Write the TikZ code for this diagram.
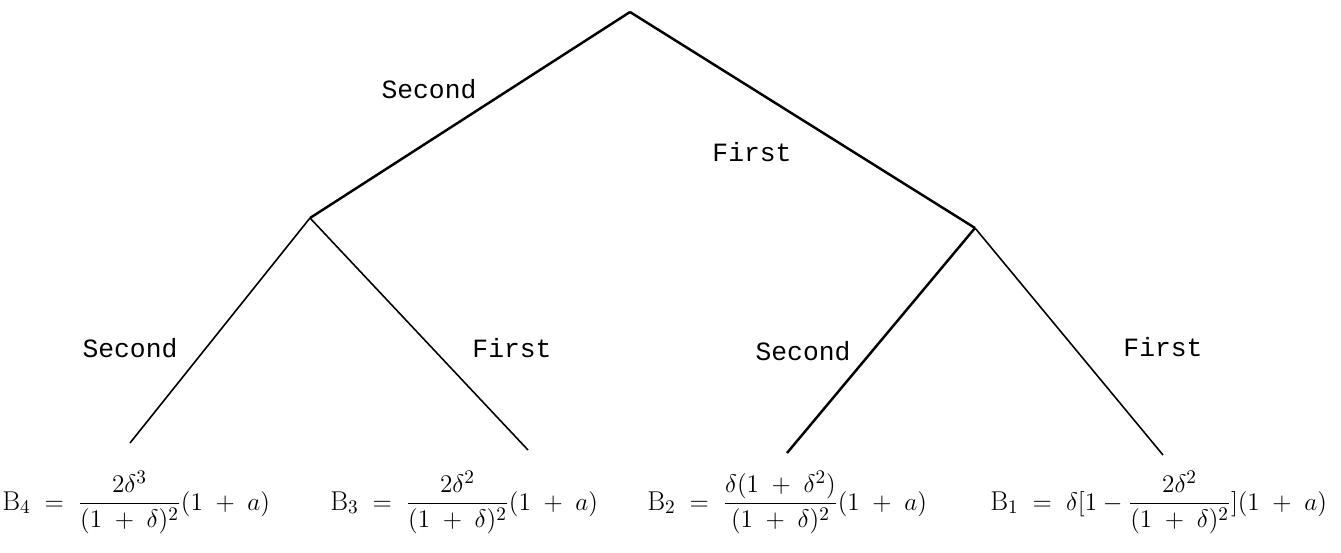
\documentclass[tikz,border=0pt]{standalone}
\usepackage{amsmath}
\usepackage{fontspec}
\newfontfamily\typefont{Liberation Mono}
\usetikzlibrary{positioning}
\newcommand{\pl}{\;+\;}
\newcommand{\eqs}{\;=\;}
\tikzset{
  branch/.style={draw=black,line width=1.4pt},
  twig/.style={draw=black,line width=0.9pt},
  choice/.style={font=\fontsize{15}{18}\typefont,inner sep=1pt},
  payoff/.style={font=\fontsize{15.5}{18}\selectfont,anchor=base west,inner sep=0pt},
}

\begin{document}
\begin{tikzpicture}[x=0.02cm,y=-0.02cm]
  \useasboundingbox (0,0) rectangle (1341,552);
  % tree points
  \coordinate (root) at (630,12);
  \coordinate (n2) at (310,218);
  \coordinate (n1) at (975,228);
  \coordinate (e4) at (130,443);
  \coordinate (e3) at (528,450);
  \coordinate (e2) at (787,453);
  \coordinate (e1) at (1163,455);
  \draw[branch] (root) -- (n2);
  \draw[branch] (root) -- (n1);
  \draw[twig] (n2) -- (e4);
  \draw[twig] (n2) -- (e3);
  \draw[branch] (n1) -- (e2);
  \draw[twig] (n1) -- (e1);
  % move labels
  \node[choice] (s0) at (429,89) {Second};
  \node[choice] (f0) at (752,152) {First};
  \node[choice] (s2) at (130,348) {Second};
  \node[choice] (f2) at (512,348) {First};
  \node[choice] (s1) at (803,351) {Second};
  \node[choice] (f1) at (1163,347) {First};
  % payoffs
  \node[payoff] (B4) at (2,510) {$\mathrm{B}_4 \eqs \dfrac{\;\;2\delta^3\;\;}{(1\pl\delta)^2}(1\pl a)$};
  \node[payoff] (B3) at (330,510) {$\mathrm{B}_3 \eqs \dfrac{\;\;2\delta^2\;\;}{(1\pl\delta)^2}(1\pl a)$};
  \node[payoff] (B2) at (647,510) {$\mathrm{B}_2 \eqs \dfrac{\delta(1\pl\delta^2)}{(1\pl\delta)^2}(1\pl a)$};
  \node[payoff] (B1) at (990,510) {$\mathrm{B}_1 \eqs \delta[1 - \dfrac{2\delta^2}{(1\pl\delta)^2}](1\pl a)$};
\end{tikzpicture}
\end{document}
